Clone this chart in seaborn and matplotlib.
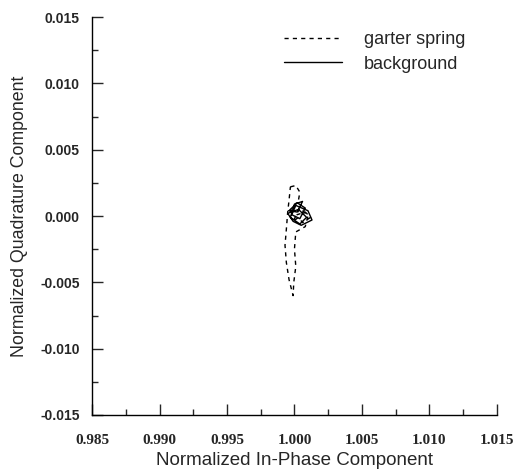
import matplotlib
matplotlib.use("Agg")
import matplotlib.pyplot as plt
from matplotlib.ticker import MultipleLocator, FormatStrFormatter
from matplotlib.font_manager import FontProperties
import seaborn as sns
import pandas as pd

# garter spring (dashed) trace
garter_x = [0.9997, 1.0001, 1.0004, 1.0003, 1.0000, 0.9997, 1.0002, 1.0008, 1.0012, 1.0006,
            1.0003, 0.9999, 1.0004, 1.0010, 1.0008, 1.0001, 1.0000, 1.0001, 0.99995, 0.9999,
            0.9996, 0.9994, 0.9993, 0.9994, 0.9995, 0.9996, 0.9997]
garter_y = [0.0022, 0.0023, 0.0018, 0.0012, 0.0008, 0.0005, 0.0001, 0.0003, -0.0001, -0.0005,
            -0.0001, -0.0004, 0.0006, 0.0000, -0.0008, -0.0012, -0.0025, -0.0038, -0.0050, -0.0060,
            -0.0048, -0.0035, -0.0022, -0.0010, 0.0003, 0.0012, 0.0022]

# background (solid) trace
bg_x = [0.9996, 1.0002, 1.0008, 1.0004, 0.9998, 1.0001, 1.0010, 1.0013, 1.0005, 0.9999,
        0.9995, 1.0003, 1.0009, 1.0004, 0.9997, 1.0000, 1.0006, 1.0002, 0.9996]
bg_y = [0.0004, 0.0010, 0.0006, -0.0002, 0.0001, 0.0008, 0.0004, -0.0003, -0.0007, -0.0004,
        0.0002, 0.0005, -0.0001, -0.0006, -0.0001, 0.0009, 0.0011, 0.0003, 0.0004]

x_ticks = [0.985, 0.990, 0.995, 1.000, 1.005, 1.010, 1.015]
y_ticks = [-0.015, -0.010, -0.005, 0.000, 0.005, 0.010, 0.015]

sns.set_style("ticks")
plt.rcParams['font.family'] = ['Liberation Sans', 'DejaVu Sans']

fig = plt.figure(figsize=(5.23, 4.74), dpi=100)
ax = fig.add_axes([0.176, 0.1245, 0.774, 0.8395])

df_g = pd.DataFrame({"x": garter_x, "y": garter_y})
df_b = pd.DataFrame({"x": bg_x, "y": bg_y})
sns.lineplot(data=df_g, x="x", y="y", sort=False, estimator=None, ax=ax,
             color="black", linewidth=1.0, linestyle=(0, (3, 3)), label="garter spring")
sns.lineplot(data=df_b, x="x", y="y", sort=False, estimator=None, ax=ax,
             color="black", linewidth=1.0, label="background")

ax.set_xlim(x_ticks[0], x_ticks[-1])
ax.set_ylim(y_ticks[0], y_ticks[-1])
ax.set_xticks(x_ticks)
ax.set_yticks(y_ticks)
ax.xaxis.set_minor_locator(MultipleLocator(0.0025))
ax.yaxis.set_minor_locator(MultipleLocator(0.0025))
ax.xaxis.set_major_formatter(FormatStrFormatter('%.3f'))
ax.yaxis.set_major_formatter(FormatStrFormatter('%.3f'))
ax.tick_params(which='major', direction='in', length=8, width=1)
ax.tick_params(which='minor', direction='in', length=4, width=1)
ax.tick_params(axis='x', which='major', pad=14)
ax.tick_params(axis='y', which='major', pad=9)

fp_x = FontProperties(family='Liberation Serif', weight='bold', size=11)
fp_y = FontProperties(family='Liberation Sans', weight='bold', size=10)
for lbl in ax.get_xticklabels():
    lbl.set_fontproperties(fp_x)
for lbl in ax.get_yticklabels():
    lbl.set_fontproperties(fp_y)

for s in ['top', 'right']:
    ax.spines[s].set_visible(False)
for s in ['left', 'bottom']:
    ax.spines[s].set_linewidth(1)
    ax.spines[s].set_color('black')

ax.set_xlabel("Normalized In-Phase Component", fontsize=13.5, labelpad=3)
ax.set_ylabel("Normalized Quadrature Component", fontsize=12.8, labelpad=9)

leg = ax.legend(loc='upper right', bbox_to_anchor=(0.962, 1.005), frameon=False,
                fontsize=13, handlelength=3.2, handletextpad=1.2, labelspacing=0.4)

fig.savefig("out.png", dpi=100)
